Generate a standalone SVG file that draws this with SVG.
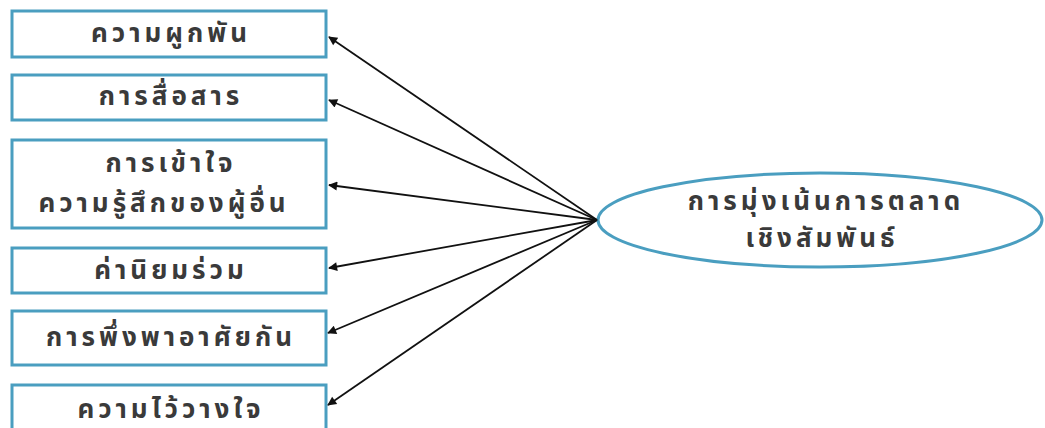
<svg xmlns="http://www.w3.org/2000/svg" width="1045" height="428" viewBox="0 0 1045 428">
<style>
.box{fill:#fff;stroke:#4a9ec0;stroke-width:3}
.t{font-family:"Noto Sans Thai","Noto Sans","DejaVu Sans",sans-serif;font-size:26px;font-weight:bold;fill:#3a3a3a;text-anchor:middle;dominant-baseline:central;letter-spacing:4px}
.c{stroke:#111;stroke-width:1.8;fill:none;marker-end:url(#ah)}
</style>
<defs>
<marker id="ah" viewBox="0 0 10 10" refX="9" refY="5" markerWidth="14" markerHeight="9" markerUnits="userSpaceOnUse" orient="auto"><path d="M0,0 L10,5 L0,10 z" fill="#111"/></marker>
</defs>
<rect width="1045" height="428" fill="#fff"/>
<g id="n1"><rect class="box" x="12" y="11" width="314" height="46"/><text class="t" x="171" y="34">ความผูกพัน</text></g>
<g id="n2"><rect class="box" x="12" y="75" width="314" height="45"/><text class="t" x="171" y="97">การสื่อสาร</text></g>
<g id="n3"><rect class="box" x="12" y="140" width="314" height="88"/><text class="t" x="171" y="164">การเข้าใจ</text><text class="t" x="164" y="204">ความรู้สึกของผู้อื่น</text></g>
<g id="n4"><rect class="box" x="12" y="248" width="314" height="45"/><text class="t" x="171" y="271">ค่านิยมร่วม</text></g>
<g id="n5"><rect class="box" x="12" y="311" width="314" height="54"/><text class="t" x="171" y="338">การพึ่งพาอาศัยกัน</text></g>
<g id="n6"><rect class="box" x="12" y="385" width="314" height="50"/><text class="t" x="171" y="410">ความไว้วางใจ</text></g>
<g id="n7"><ellipse cx="820" cy="220" rx="222" ry="47" fill="#fff" stroke="#4a9ec0" stroke-width="3"/><text class="t" x="826" y="202">การมุ่งเน้นการตลาด</text><text class="t" x="822" y="239">เชิงสัมพันธ์</text></g>
<g id="connectors">
<line class="c" x1="597" y1="220" x2="329" y2="37"/>
<line class="c" x1="597" y1="220" x2="329" y2="100"/>
<line class="c" x1="597" y1="220" x2="329" y2="185"/>
<line class="c" x1="597" y1="220" x2="329" y2="268"/>
<line class="c" x1="597" y1="220" x2="328" y2="333"/>
<line class="c" x1="597" y1="220" x2="328" y2="405"/>
</g>
</svg>
